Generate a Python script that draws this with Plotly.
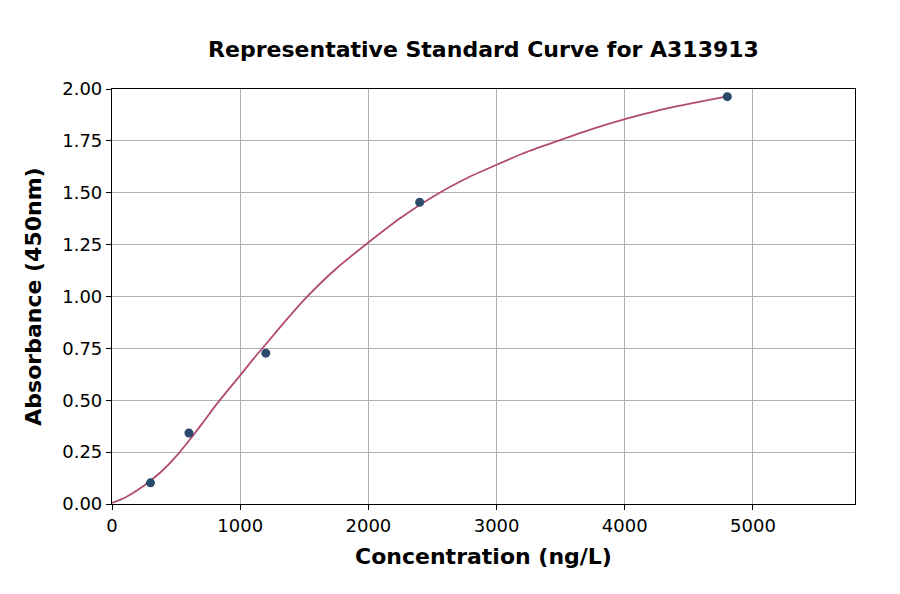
import plotly.graph_objects as go

# Standard points
conc = [300, 600, 1200, 2400, 4800]
absorb = [0.102, 0.342, 0.727, 1.454, 1.963]

# Fitted curve
curve_x = [0, 100, 200, 300, 400, 500, 600, 700, 800, 900, 1000, 1100, 1200, 1350,
           1500, 1750, 2000, 2250, 2500, 2750, 3000, 3250, 3500, 3750, 4000, 4250,
           4500, 4800]
curve_y = [0.005, 0.03, 0.067, 0.112, 0.165, 0.23, 0.305, 0.385, 0.468, 0.545, 0.62,
           0.697, 0.77, 0.88, 0.985, 1.135, 1.26, 1.378, 1.48, 1.565, 1.635, 1.70,
           1.755, 1.808, 1.855, 1.895, 1.928, 1.965]

x_ticks = [0, 1000, 2000, 3000, 4000, 5000]
y_ticks = [0.0, 0.25, 0.5, 0.75, 1.0, 1.25, 1.5, 1.75, 2.0]

FONT = "DejaVu Sans"

fig = go.Figure()
fig.add_trace(go.Scatter(x=curve_x, y=curve_y, mode="lines",
                         line=dict(color="#b24c6e", width=1.8, shape="spline", smoothing=0.6),
                         hoverinfo="skip", showlegend=False))
fig.add_trace(go.Scatter(x=conc, y=absorb, mode="markers",
                         marker=dict(color="#2c4a6c", size=9),
                         showlegend=False))

axis_common = dict(showline=True, linecolor="black", linewidth=1.2, mirror=True,
                   showgrid=True, gridcolor="#b0b0b0", gridwidth=1,
                   ticks="outside", ticklen=5, tickcolor="black", tickwidth=1.2,
                   zeroline=False, tickfont=dict(family=FONT, size=18, color="black"))

fig.update_layout(
    width=900, height=594,
    paper_bgcolor="white", plot_bgcolor="white",
    margin=dict(l=104, r=53, t=81, b=98),
    title=dict(text="<b>Representative Standard Curve for A313913</b>",
               xref="paper", x=0.5, xanchor="center", y=0.931, yanchor="middle",
               font=dict(family=FONT, size=22, color="black")),
    xaxis=dict(range=[0, 5796], tickvals=x_ticks, ticktext=[str(v) for v in x_ticks],
               title=dict(text="<b>Concentration (ng/L)</b>", standoff=13,
                          font=dict(family=FONT, size=22, color="black")),
               **axis_common),
    yaxis=dict(range=[0, 2.0], tickvals=y_ticks, ticktext=[f"{v:.2f}" for v in y_ticks],
               title=dict(text="<b>Absorbance (450nm)</b>", standoff=14,
                          font=dict(family=FONT, size=22, color="black")),
               **axis_common),
)

fig.write_html("out.html")
